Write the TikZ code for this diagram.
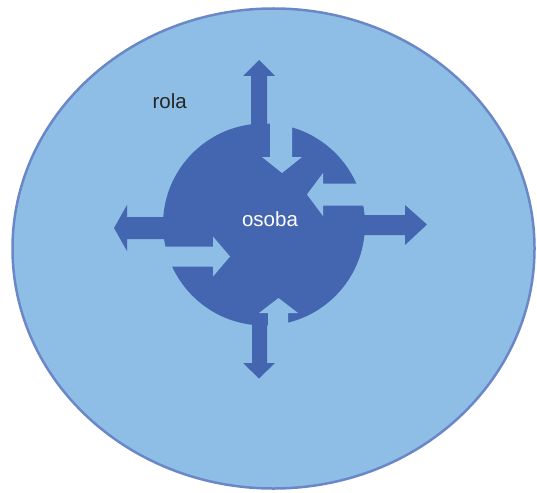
\documentclass[tikz,border=0pt]{standalone}
\usepackage{fontspec}
\setmainfont{Liberation Sans}
\definecolor{rolefill}{HTML}{8EBEE6}
\definecolor{roleline}{HTML}{6A88C8}
\definecolor{personblue}{HTML}{4466B0}
\definecolor{roletext}{HTML}{262626}
\begin{document}
\begin{tikzpicture}[x=1pt,y=-1pt,font=\fontsize{20.5}{24}\selectfont,
  outarrow/.style={fill=personblue},
  inarrow/.style={fill=rolefill}]
\useasboundingbox (0,0) rectangle (537,492);
\filldraw[fill=rolefill, draw=roleline, line width=2.5pt] (273.5,248.5) ellipse [x radius=261, y radius=240];
\fill[personblue] (264,224.5) circle [radius=101];
% arrows into the circle
\fill[inarrow] (270,110)--(292,110)--(292,157)--(302,157)--(282,173)--(262,157)--(270,157)--cycle;
\fill[inarrow] (375,183.5)--(323,183.5)--(323,173)--(307,194.5)--(323,216)--(323,205.5)--(375,205.5)--cycle;
\fill[inarrow] (150,246.5)--(213,246.5)--(213,236.5)--(230,256.5)--(213,276.5)--(213,266.5)--(150,266.5)--cycle;
\fill[inarrow] (268,340)--(268,313)--(259,313)--(278.5,298)--(298,313)--(288,313)--(288,340)--cycle;
% arrows out of the circle
\fill[outarrow] (251,130)--(251,76)--(243,76)--(259,60)--(275,76)--(267,76)--(267,130)--cycle;
\fill[outarrow] (252,320)--(252,363)--(243,363)--(259,378.5)--(275,363)--(267,363)--(267,320)--cycle;
\fill[outarrow] (170,217)--(127,217)--(127,205)--(114,228)--(127,251)--(127,239)--(170,239)--cycle;
\fill[outarrow] (358,215)--(405,215)--(405,205)--(427,224.5)--(405,245)--(405,235)--(358,235)--cycle;
\node[text=white, anchor=base] (osoba) at (270,226.7) {osoba};
\node[text=roletext, anchor=base] (rola) at (169.7,108.3) {rola};
\end{tikzpicture}
\end{document}
